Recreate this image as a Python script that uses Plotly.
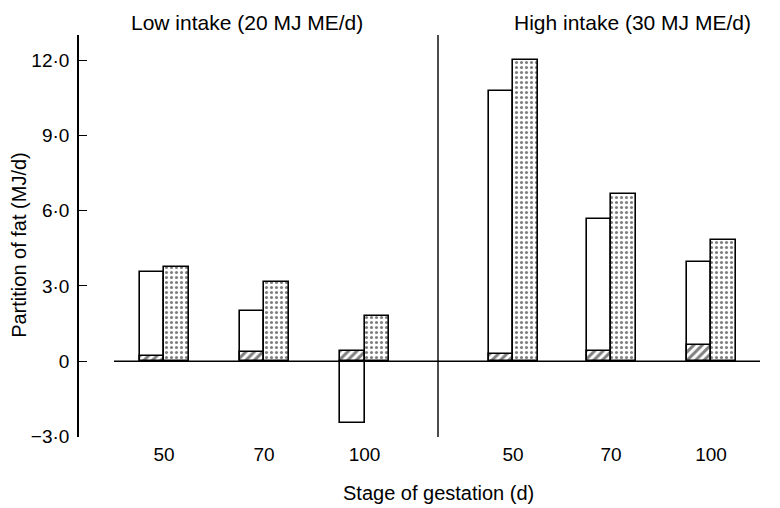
import plotly.graph_objects as go

# ---- data ----
stages = ["50", "70", "100", "50", "70", "100"]
groups = ["Low intake (20 MJ ME/d)", "High intake (30 MJ ME/d)"]
open_bar = [3.55, 2.0, -2.45, 10.75, 5.65, 3.95]      # open (white) bars
hatched_bar = [0.2, 0.35, 0.4, 0.3, 0.4, 0.65]         # hatched part
dotted_bar = [3.75, 3.15, 1.8, 12.0, 6.65, 4.85]       # dotted bars
y_ticks = [-3, 0, 3, 6, 9, 12]
y_tick_text = ["\u22123\u00b70", "0", "3\u00b70", "6\u00b70", "9\u00b70", "12\u00b70"]

# ---- layout helpers (positions on numeric x axis) ----
xpos = [0, 1, 2.005, 3.49, 4.47, 5.47]
bw = 0.245
divider_x = 2.74
FONT = "Liberation Sans, Arial, Helvetica, sans-serif"

fig = go.Figure()
fig.add_trace(go.Bar(
    x=xpos, y=open_bar, width=bw, offset=-bw,
    marker=dict(color="white", line=dict(color="black", width=1.6)),
    showlegend=False, hoverinfo="y"))
fig.add_trace(go.Bar(
    x=xpos, y=hatched_bar, width=bw, offset=-bw,
    marker=dict(color="white", line=dict(color="black", width=1.6),
                pattern=dict(shape="/", fgcolor="black", bgcolor="white",
                             size=6, solidity=0.5)),
    showlegend=False, hoverinfo="y"))
fig.add_trace(go.Bar(
    x=xpos, y=dotted_bar, width=bw, offset=0,
    marker=dict(color="white", line=dict(color="black", width=1.6),
                pattern=dict(shape=".", fgcolor="black", bgcolor="white",
                             size=5, solidity=0.3)),
    showlegend=False, hoverinfo="y"))

# zero line and divider
fig.add_shape(type="line", xref="x", yref="y", x0=-0.5, x1=5.96, y0=0, y1=0,
              line=dict(color="black", width=1.6))
fig.add_shape(type="line", xref="x", yref="paper", x0=divider_x, x1=divider_x,
              y0=0, y1=1, line=dict(color="black", width=1.4))

# panel titles
fig.add_annotation(x=0.83, y=1.032, xref="x", yref="paper", text=groups[0],
                   showarrow=False, font=dict(size=21, color="black", family=FONT),
                   yanchor="middle")
fig.add_annotation(x=4.68, y=1.032, xref="x", yref="paper", text=groups[1],
                   showarrow=False, font=dict(size=21, color="black", family=FONT),
                   yanchor="middle")
# axis titles
fig.add_annotation(x=divider_x, y=-0.14, xref="x", yref="paper",
                   text="Stage of gestation (d)", showarrow=False,
                   font=dict(size=20, color="black", family=FONT), yanchor="middle")
fig.add_annotation(x=0, xshift=-60, y=0.478, xref="paper", yref="paper",
                   text="Partition of fat (MJ/d)", textangle=-90, showarrow=False,
                   font=dict(size=20, color="black", family=FONT),
                   xanchor="center", yanchor="middle")

fig.update_layout(
    width=780, height=508,
    margin=dict(l=79, r=20, t=35, b=71),
    plot_bgcolor="white", paper_bgcolor="white",
    barmode="overlay", bargap=0,
    font=dict(family=FONT, size=19, color="black"),
    showlegend=False,
)
fig.update_xaxes(range=[-0.85, 5.96], tickvals=xpos, ticktext=stages,
                 showgrid=False, zeroline=False, showline=False, ticks="",
                 tickfont=dict(size=19), ticklabelstandoff=4)
fig.update_yaxes(range=[-3.02, 13.0], tickvals=y_ticks, ticktext=y_tick_text,
                 showgrid=False, zeroline=False, showline=True, linecolor="black",
                 linewidth=1.6, ticks="inside", ticklen=8, tickwidth=1.4,
                 tickcolor="black", ticklabelstandoff=4, tickfont=dict(size=19))

fig.write_html("out.html", config={"displayModeBar": False},
               post_script="document.body.style.margin='0px';")
